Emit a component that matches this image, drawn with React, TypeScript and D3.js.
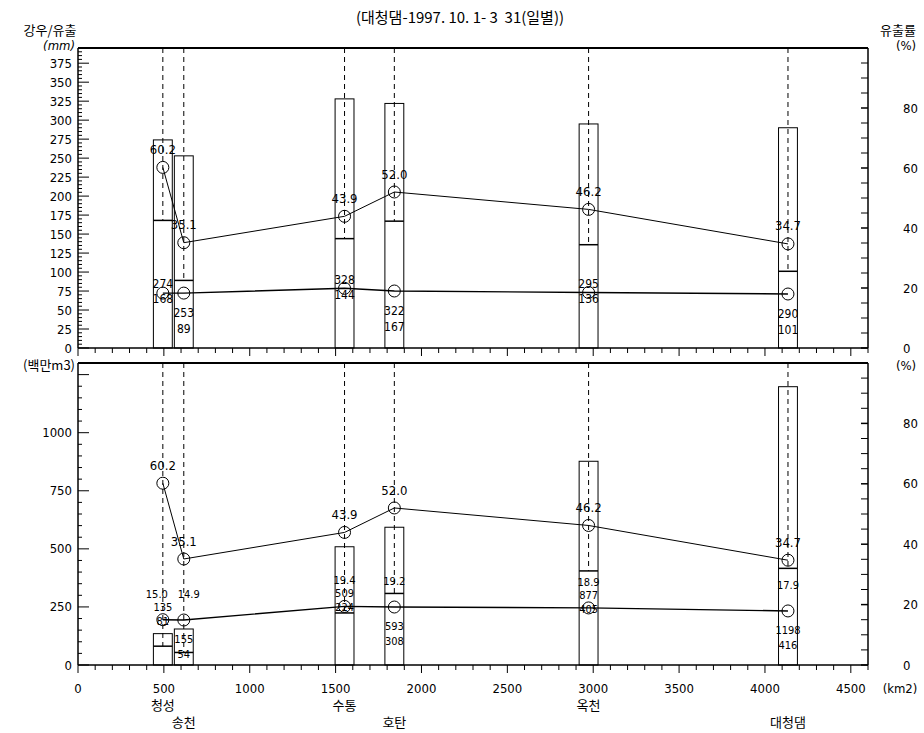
import React from 'react';
import * as d3 from 'd3';

const stations = ['청성', '송천', '수통', '호탄', '옥천', '대청댐'];
const basinArea = [494, 616, 1552, 1842, 2973, 4134];
const rainfallMm = [274, 253, 328, 322, 295, 290];
const runoffMm = [168, 89, 144, 167, 136, 101];
const runoffRatio = [60.2, 35.1, 43.9, 52.0, 46.2, 34.7];
const topLowerRatio = [18.3, 18.3, 19.9, 19.0, 18.5, 18.0];
const rainfallVol = [135, 155, 509, 593, 877, 1198];
const runoffVol = [81, 54, 224, 308, 405, 416];
const volumeRatio = [15.0, 14.9, 19.4, 19.2, 18.9, 17.9];
const xTickLabels = [0, 500, 1000, 1500, 2000, 2500, 3000, 3500, 4000, 4500];
const mmTickLabels = [0, 25, 50, 75, 100, 125, 150, 175, 200, 225, 250, 275, 300, 325, 350, 375];
const pctTickLabels = [0, 20, 40, 60, 80];
const volTickLabels = [0, 250, 500, 750, 1000];
const labelBelow = [false, true, false, true, false, true];
const labelShift = [-6, 5, 0, 0, 0, 0];
const nameRow = [0, 1, 0, 1, 0, 1];

const W = 924, H = 733;
const L = 78, R = 868;
const topT = 48, topB = 348;
const botT = 363, botB = 665;
const FONT = "'DejaVu Sans Condensed', 'Liberation Sans', Arial, sans-serif";
const KFONT = "'Noto Sans CJK KR', sans-serif";

const x = d3.scaleLinear().domain([0, 4600]).range([L, R]);
const yMm = d3.scaleLinear().domain([0, 395]).range([topB, topT]);
const yTopPct = d3.scaleLinear().domain([0, 100]).range([topB, topT]);
const yVol = d3.scaleLinear().domain([0, 1300]).range([botB, botT]);
const yBotPct = d3.scaleLinear().domain([0, 100]).range([botB, botT]);

const halfW = 55;

function Panel(props: {
  yL: d3.ScaleLinear<number, number>;
  yR: d3.ScaleLinear<number, number>;
  rain: number[];
  runoff: number[];
  ratio: number[];
  lower: number[];
  showLowerLabels: boolean;
  top: number;
  bottom: number;
  lMax: number;
  lMinor: number;
  lMajor: number;
  lowOff: number;
  valFont: number;
  rainOffA: number;
  runOffA: number;
  rainOffB: number;
  runOffB: number;
}) {
  const { yL, yR, rain, runoff, ratio, lower, top, bottom } = props;
  const line = d3.line<number>().x((_, i) => x(basinArea[i])).y((d) => yR(d));
  const minorL = d3.range(0, props.lMax + 1, props.lMinor);
  const minorR = d3.range(0, 101, 5);
  const minorX = d3.range(0, 4601, 100);
  return (
    <g>
      {stations.map((s, i) => {
        const x0 = x(basinArea[i] - halfW);
        const x1 = x(basinArea[i] + halfW);
        return (
          <g key={'bar' + i}>
            <rect x={x0} y={yL(rain[i])} width={x1 - x0} height={yL(0) - yL(rain[i])} fill="none" stroke="#000" strokeWidth={1} />
            <line x1={x0} x2={x1} y1={yL(runoff[i])} y2={yL(runoff[i])} stroke="#000" strokeWidth={1.5} />
            <line x1={x(basinArea[i])} x2={x(basinArea[i])} y1={top} y2={yL(runoff[i])} stroke="#000" strokeWidth={1} strokeDasharray="5,4" />
          </g>
        );
      })}
      <path d={line(ratio) || ''} fill="none" stroke="#000" strokeWidth={1} />
      <path d={line(lower) || ''} fill="none" stroke="#000" strokeWidth={1.4} />
      {ratio.map((v, i) => (
        <circle key={'cu' + i} cx={x(basinArea[i])} cy={yR(v)} r={6} fill="none" stroke="#000" strokeWidth={1} />
      ))}
      {lower.map((v, i) => (
        <circle key={'cl' + i} cx={x(basinArea[i])} cy={yR(v)} r={6} fill="none" stroke="#000" strokeWidth={1} />
      ))}
      {ratio.map((v, i) => (
        <text key={'tu' + i} x={x(basinArea[i])} y={yR(v) - 18} dy="0.35em" textAnchor="middle" fontSize={13} fontFamily={FONT}>{v.toFixed(1)}</text>
      ))}
      {props.showLowerLabels && lower.map((v, i) => (
        <text key={'tl' + i} x={x(basinArea[i]) + labelShift[i]} y={yR(v) + props.lowOff} dy="0.35em" textAnchor="middle" fontSize={props.valFont} fontFamily={FONT}>{v.toFixed(1)}</text>
      ))}
      {lower.map((v, i) => {
        const cy = yR(v);
        const a = labelBelow[i] ? props.rainOffB : props.rainOffA;
        const b = labelBelow[i] ? props.runOffB : props.runOffA;
        return (
          <g key={'tv' + i}>
            <text x={x(basinArea[i])} y={cy + a} dy="0.35em" textAnchor="middle" fontSize={props.valFont} fontFamily={FONT}>{rain[i]}</text>
            <text x={x(basinArea[i])} y={cy + b} dy="0.35em" textAnchor="middle" fontSize={props.valFont} fontFamily={FONT}>{runoff[i]}</text>
          </g>
        );
      })}
      <line x1={L} x2={R} y1={top} y2={top} stroke="#000" strokeWidth={2} />
      <line x1={L} x2={L} y1={top} y2={bottom} stroke="#000" strokeWidth={1.5} />
      <line x1={R} x2={R} y1={top} y2={bottom} stroke="#000" strokeWidth={1.5} />
      <line x1={L} x2={R} y1={bottom} y2={bottom} stroke="#000" strokeWidth={1.5} />
      {minorL.map((v) => (
        <line key={'lt' + v} x1={L} x2={L + (v % props.lMajor === 0 ? 11 : 4)} y1={yL(v)} y2={yL(v)} stroke="#000" strokeWidth={1} />
      ))}
      {minorR.map((v) => (
        <line key={'rt' + v} x1={R - 7} x2={R} y1={yR(v)} y2={yR(v)} stroke="#000" strokeWidth={v % 20 === 0 ? 1.5 : 1} />
      ))}
      {minorX.map((v) => (
        <line key={'xt' + v} x1={x(v)} x2={x(v)} y1={bottom} y2={bottom + (v % 500 === 0 ? 8 : 5)} stroke="#000" strokeWidth={1} />
      ))}
      {pctTickLabels.map((v) => (
        <text key={'rl' + v} x={903} y={yR(v)} dy="0.35em" textAnchor="start" fontSize={13} fontFamily={FONT}>{v}</text>
      ))}
    </g>
  );
}

export default function App() {
  return (
    <svg width={W} height={H} viewBox={`0 0 ${W} ${H}`} style={{ position: 'absolute', left: 0, top: 0, background: '#fff' }}>
      <rect x={0} y={0} width={W} height={H} fill="#fff" />
      <text x={460} y={18} dy="0.35em" textAnchor="middle" fontSize={15} fontFamily={KFONT}>{'(대청댐-1997. 10. 1- 3\u00A0 31(일별))'}</text>
      <text x={50} y={30} dy="0.35em" textAnchor="middle" fontSize={13} fontFamily={KFONT}>강우/유출</text>
      <text x={75} y={45} dy="0.35em" textAnchor="end" fontSize={13} fontStyle="italic" fontFamily={FONT}>(mm)</text>
      <text x={898} y={30} dy="0.35em" textAnchor="middle" fontSize={13} fontFamily={KFONT}>유출률</text>
      <text x={906} y={45} dy="0.35em" textAnchor="middle" fontSize={13} fontFamily={FONT}>(%)</text>
      <text x={75} y={365} dy="0.35em" textAnchor="end" fontSize={13} fontFamily={KFONT}>(백만m3)</text>
      <text x={906} y={365} dy="0.35em" textAnchor="middle" fontSize={13} fontFamily={FONT}>(%)</text>

      <Panel yL={yMm} yR={yTopPct} rain={rainfallMm} runoff={runoffMm} ratio={runoffRatio} lower={topLowerRatio}
        showLowerLabels={false} top={topT} bottom={topB} lMax={390} lMinor={5} lMajor={25} lowOff={-19} valFont={12}
        rainOffA={-9} runOffA={6} rainOffB={20} runOffB={36} />
      <Panel yL={yVol} yR={yBotPct} rain={rainfallVol} runoff={runoffVol} ratio={runoffRatio} lower={volumeRatio}
        showLowerLabels={true} top={botT} bottom={botB} lMax={1300} lMinor={50} lMajor={250} lowOff={-26} valFont={11}
        rainOffA={-13} runOffA={1} rainOffB={19} runOffB={34} />

      {mmTickLabels.map((v) => (
        <text key={'ml' + v} x={72} y={yMm(v)} dy="0.35em" textAnchor="end" fontSize={13} fontFamily={FONT}>{v}</text>
      ))}
      {volTickLabels.map((v) => (
        <text key={'vl' + v} x={72} y={yVol(v)} dy="0.35em" textAnchor="end" fontSize={13} fontFamily={FONT}>{v}</text>
      ))}
      {xTickLabels.map((v) => (
        <text key={'xl' + v} x={x(v)} y={688} dy="0.35em" textAnchor="middle" fontSize={13} fontFamily={FONT}>{v}</text>
      ))}
      <text x={900} y={688} dy="0.35em" textAnchor="middle" fontSize={13} fontFamily={FONT}>(km2)</text>
      {stations.map((s, i) => (
        <text key={'sn' + i} x={x(basinArea[i])} y={nameRow[i] === 0 ? 705 : 722} dy="0.35em" textAnchor="middle" fontSize={13} fontFamily={KFONT}>{s}</text>
      ))}
    </svg>
  );
}
